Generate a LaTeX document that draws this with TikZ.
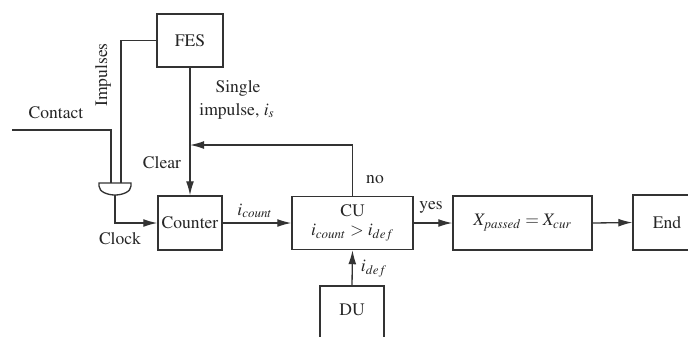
\documentclass[tikz,border=0pt]{standalone}
\usepackage[T1]{fontenc}
\usepackage{mathptmx}
\usetikzlibrary{arrows.meta}
\begin{document}
\begin{tikzpicture}[x=0.02cm,y=-0.02cm,
  line/.style={draw=black!80, line width=0.75pt},
  arr/.style={line, -{Latex[length=8pt,width=4.5pt]}},
  blk/.style={draw=black!80, line width=0.75pt, inner sep=0pt, font=\fontsize{10}{12}\selectfont, text=black!85},
  lbl/.style={font=\fontsize{10}{12}\selectfont, text=black!85, inner sep=1pt}]
\clip (0,0) rectangle (688,336);
\fill[white] (0,0) rectangle (688,336);
% blocks
\node[blk, minimum width=66*0.02cm, minimum height=53*0.02cm] (fes) at (190,40.5) {FES};
\node[blk, minimum width=64*0.02cm, minimum height=54*0.02cm] (counter) at (190,223) {Counter};
\node[blk, minimum width=121*0.02cm, minimum height=53*0.02cm, align=center] (cu) at (352.5,223)
  {CU\\[-1pt] $i_{count} > i_{def}$};
\node[blk, minimum width=139*0.02cm, minimum height=54*0.02cm] (xb) at (522.5,223) {$X_{passed} = X_{cur}$};
\node[blk, minimum width=68*0.02cm, minimum height=55*0.02cm] (endb) at (667,222.5) {End};
\node[blk, minimum width=64*0.02cm, minimum height=54*0.02cm] (du) at (352,313) {};
\node[lbl] (dut) at (352,310) {DU};
% gate
\draw[line] (99,183) -- (131,183) -- (131,186) .. controls (131,192) and (122,195) .. (115,195)
  .. controls (108,195) and (99,192) .. (99,186) -- cycle;
\coordinate (gin1) at (111,183);
\coordinate (gin2) at (121,183);
\coordinate (gout) at (115,195);
\coordinate (cstart) at (12,130);
\coordinate (fb) at (190,145);
% connectors
\draw[line] (cstart) -| (gin1);
\draw[line] (fes.west) -| (gin2);
\draw[arr] (gout) |- (counter.west);
\draw[arr] (fes.south) -- (counter.north);
\draw[arr] (cu.north) |- (fb);
\draw[arr] (counter.east) -- (cu.west);
\draw[arr] (cu.east) -- (xb.west);
\draw[arr] (xb.east) -- (endb.west);
\draw[arr] (du.north) -- (cu.south);
% labels
\node[lbl] (lcontact) at (56,113) {Contact};
\node[lbl, rotate=90] (limp) at (103,75) {Impulses};
\node[lbl] (lclear) at (162,163) {Clear};
\node[lbl] (lsingle) at (238,88) {Single};
\node[lbl] (limpulse) at (237,111) {impulse, $i_s$};
\node[lbl] (lclock) at (120,239) {Clock};
\node[lbl] (lcount) at (255,211) {$i_{count}$};
\node[lbl] (lno) at (375,180) {no};
\node[lbl] (lyes) at (431,207) {yes};
\node[lbl] (ldef) at (374,269) {$i_{def}$};
\end{tikzpicture}
\end{document}
